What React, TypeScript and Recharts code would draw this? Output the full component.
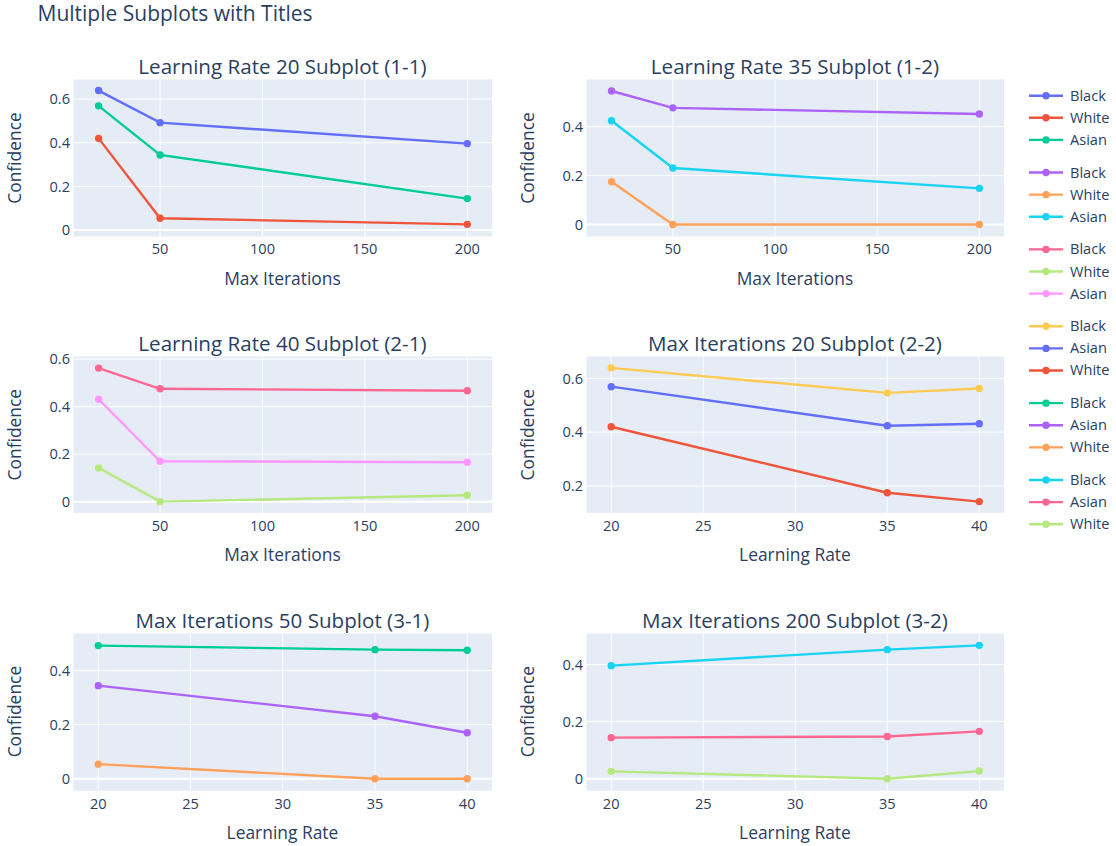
import React from 'react';
import {
  LineChart,
  Line,
  XAxis,
  YAxis,
  CartesianGrid,
  ReferenceLine,
} from 'recharts';

const FONT = '"Open Sans", verdana, arial, sans-serif';
const INK = '#2a3f5f';
const PLOT_BG = '#E5ECF6';

// x values
const MAX_ITERS = [20, 50, 200];
const LEARNING_RATES = [20, 35, 40];

// confidence at each max-iterations value (20, 50, 200), one array per learning rate
const BLACK_LR20 = [0.639, 0.492, 0.396];
const BLACK_LR35 = [0.546, 0.477, 0.452];
const BLACK_LR40 = [0.562, 0.475, 0.467];

const WHITE_LR20 = [0.42, 0.054, 0.026];
const WHITE_LR35 = [0.175, 0.0, 0.0];
const WHITE_LR40 = [0.142, 0.0, 0.027];

const ASIAN_LR20 = [0.569, 0.344, 0.144];
const ASIAN_LR35 = [0.424, 0.231, 0.148];
const ASIAN_LR40 = [0.431, 0.17, 0.166];

const BLACK_RUNS = [BLACK_LR20, BLACK_LR35, BLACK_LR40];
const WHITE_RUNS = [WHITE_LR20, WHITE_LR35, WHITE_LR40];
const ASIAN_RUNS = [ASIAN_LR20, ASIAN_LR35, ASIAN_LR40];

// tick labels
const ITER_TICKS = [50, 100, 150, 200];
const LR_TICKS = [20, 25, 30, 35, 40];

const ITER_DOMAIN: [number, number] = [7.5, 212.3];
const LR_DOMAIN: [number, number] = [18.63, 41.37];

// values across learning rates for one max-iterations index
const atIter = (runs: number[][], i: number) => runs.map((r) => r[i]);

interface Series {
  name: string;
  color: string;
  values: number[];
}

interface PanelSpec {
  title: string;
  xLabel: string;
  xs: number[];
  xTicks: number[];
  xDomain: [number, number];
  yTicks: number[];
  yDomain: [number, number];
  box: { x: number; y: number; w: number; h: number };
  series: Series[];
}

const PANELS: PanelSpec[] = [
  {
    title: 'Learning Rate 20 Subplot (1-1)',
    xLabel: 'Max Iterations',
    xs: MAX_ITERS,
    xTicks: ITER_TICKS,
    xDomain: ITER_DOMAIN,
    yTicks: [0, 0.2, 0.4, 0.6],
    yDomain: [-0.032, 0.692],
    box: { x: 72.7, y: 79, w: 419.5, h: 158 },
    series: [
      { name: 'Black', color: '#636EFA', values: BLACK_LR20 },
      { name: 'White', color: '#EF553B', values: WHITE_LR20 },
      { name: 'Asian', color: '#00CC96', values: ASIAN_LR20 },
    ],
  },
  {
    title: 'Learning Rate 35 Subplot (1-2)',
    xLabel: 'Max Iterations',
    xs: MAX_ITERS,
    xTicks: ITER_TICKS,
    xDomain: ITER_DOMAIN,
    yTicks: [0, 0.2, 0.4],
    yDomain: [-0.051, 0.595],
    box: { x: 585.7, y: 79, w: 418.5, h: 158 },
    series: [
      { name: 'Black', color: '#AB63FA', values: BLACK_LR35 },
      { name: 'White', color: '#FFA15A', values: WHITE_LR35 },
      { name: 'Asian', color: '#19D3F3', values: ASIAN_LR35 },
    ],
  },
  {
    title: 'Learning Rate 40 Subplot (2-1)',
    xLabel: 'Max Iterations',
    xs: MAX_ITERS,
    xTicks: ITER_TICKS,
    xDomain: ITER_DOMAIN,
    yTicks: [0, 0.2, 0.4, 0.6],
    yDomain: [-0.049, 0.613],
    box: { x: 72.7, y: 356, w: 419.5, h: 157.3 },
    series: [
      { name: 'Black', color: '#FF6692', values: BLACK_LR40 },
      { name: 'White', color: '#B6E880', values: WHITE_LR40 },
      { name: 'Asian', color: '#FF97FF', values: ASIAN_LR40 },
    ],
  },
  {
    title: 'Max Iterations 20 Subplot (2-2)',
    xLabel: 'Learning Rate',
    xs: LEARNING_RATES,
    xTicks: LR_TICKS,
    xDomain: LR_DOMAIN,
    yTicks: [0.2, 0.4, 0.6],
    yDomain: [0.0985, 0.683],
    box: { x: 585.7, y: 356, w: 418.5, h: 157.3 },
    series: [
      { name: 'Black', color: '#FECB52', values: atIter(BLACK_RUNS, 0) },
      { name: 'Asian', color: '#636EFA', values: atIter(ASIAN_RUNS, 0) },
      { name: 'White', color: '#EF553B', values: atIter(WHITE_RUNS, 0) },
    ],
  },
  {
    title: 'Max Iterations 50 Subplot (3-1)',
    xLabel: 'Learning Rate',
    xs: LEARNING_RATES,
    xTicks: LR_TICKS,
    xDomain: LR_DOMAIN,
    yTicks: [0, 0.2, 0.4],
    yDomain: [-0.0458, 0.5385],
    box: { x: 72.7, y: 632.5, w: 419.5, h: 158.2 },
    series: [
      { name: 'Black', color: '#00CC96', values: atIter(BLACK_RUNS, 1) },
      { name: 'Asian', color: '#AB63FA', values: atIter(ASIAN_RUNS, 1) },
      { name: 'White', color: '#FFA15A', values: atIter(WHITE_RUNS, 1) },
    ],
  },
  {
    title: 'Max Iterations 200 Subplot (3-2)',
    xLabel: 'Learning Rate',
    xs: LEARNING_RATES,
    xTicks: LR_TICKS,
    xDomain: LR_DOMAIN,
    yTicks: [0, 0.2, 0.4],
    yDomain: [-0.0434, 0.5102],
    box: { x: 585.7, y: 632.5, w: 418.5, h: 158.2 },
    series: [
      { name: 'Black', color: '#19D3F3', values: atIter(BLACK_RUNS, 2) },
      { name: 'Asian', color: '#FF6692', values: atIter(ASIAN_RUNS, 2) },
      { name: 'White', color: '#B6E880', values: atIter(WHITE_RUNS, 2) },
    ],
  },
];

// room around each plot area for the tick labels
const AXIS_W = 60;
const AXIS_H = 30;
const PAD = 12;

const TICK_FONT = 14.6;
const LINE_W = 2.4;
const DOT_R = 3.7;

function Panel({ spec }: { spec: PanelSpec }) {
  const { box } = spec;
  const rows = spec.xs.map((x, i) => {
    const row: Record<string, number> = { x };
    spec.series.forEach((s) => {
      row[s.name] = s.values[i];
    });
    return row;
  });
  const tick = { fill: INK, fontSize: TICK_FONT, fontFamily: FONT };

  return (
    <div style={{ position: 'absolute', left: box.x - AXIS_W, top: box.y - PAD }}>
      <LineChart
        width={box.w + AXIS_W + PAD}
        height={box.h + PAD + AXIS_H}
        data={rows}
        margin={{ top: PAD, right: PAD, bottom: 0, left: 0 }}
      >
        <CartesianGrid fill={PLOT_BG} stroke="#fff" strokeWidth={1} />
        <XAxis
          dataKey="x"
          type="number"
          domain={spec.xDomain}
          ticks={spec.xTicks}
          allowDataOverflow
          interval={0}
          height={AXIS_H}
          axisLine={false}
          tickLine={false}
          tickSize={0}
          tickMargin={7}
          tick={tick}
        />
        <YAxis
          type="number"
          domain={spec.yDomain}
          ticks={spec.yTicks}
          allowDataOverflow
          interval={0}
          width={AXIS_W}
          axisLine={false}
          tickLine={false}
          tickSize={0}
          tickMargin={3}
          tick={tick}
        />
        <ReferenceLine y={0} stroke="#fff" strokeWidth={2} />
        {spec.series.map((s) => (
          <Line
            key={s.name}
            dataKey={s.name}
            stroke={s.color}
            strokeWidth={LINE_W}
            dot={{ r: DOT_R, fill: s.color, stroke: s.color, strokeWidth: 0 }}
            activeDot={false}
            isAnimationActive={false}
          />
        ))}
      </LineChart>
    </div>
  );
}

// titles, axis titles and the shared legend
function Annotations() {
  const legendTop = 95.7;
  const rowH = 22.1;
  const groupStep = 76.86;

  return (
    <svg
      width={1116}
      height={846}
      style={{ position: 'absolute', left: 0, top: 0, pointerEvents: 'none' }}
      fontFamily={FONT}
      fill={INK}
    >
      <text x={37.5} y={21} fontSize={21}>
        Multiple Subplots with Titles
      </text>

      {PANELS.map((p) => {
        const cx = p.box.x + p.box.w / 2;
        const cy = p.box.y + p.box.h / 2;
        const yx = p.box.x - 51.5;
        return (
          <g key={p.title}>
            <text x={cx} y={p.box.y - 5} fontSize={20.6} textAnchor="middle">
              {p.title}
            </text>
            <text x={cx} y={p.box.y + p.box.h + 48} fontSize={17.4} textAnchor="middle">
              {p.xLabel}
            </text>
            <text
              x={yx}
              y={cy}
              fontSize={17.4}
              textAnchor="middle"
              transform={`rotate(-90, ${yx}, ${cy})`}
            >
              Confidence
            </text>
          </g>
        );
      })}

      {PANELS.map((p, g) =>
        p.series.map((s, r) => {
          const y = legendTop + g * groupStep + r * rowH;
          return (
            <g key={`${g}-${s.name}`}>
              <line x1={1029} x2={1063} y1={y} y2={y} stroke={s.color} strokeWidth={LINE_W} />
              <circle cx={1046} cy={y} r={DOT_R} fill={s.color} />
              <text x={1070} y={y + 5} fontSize={TICK_FONT}>
                {s.name}
              </text>
            </g>
          );
        })
      )}
    </svg>
  );
}

export default function App() {
  return (
    <div
      style={{
        position: 'absolute',
        left: 0,
        top: 0,
        width: 1116,
        height: 846,
        background: '#fff',
        fontFamily: FONT,
      }}
    >
      {PANELS.map((p) => (
        <Panel key={p.title} spec={p} />
      ))}
      <Annotations />
    </div>
  );
}
